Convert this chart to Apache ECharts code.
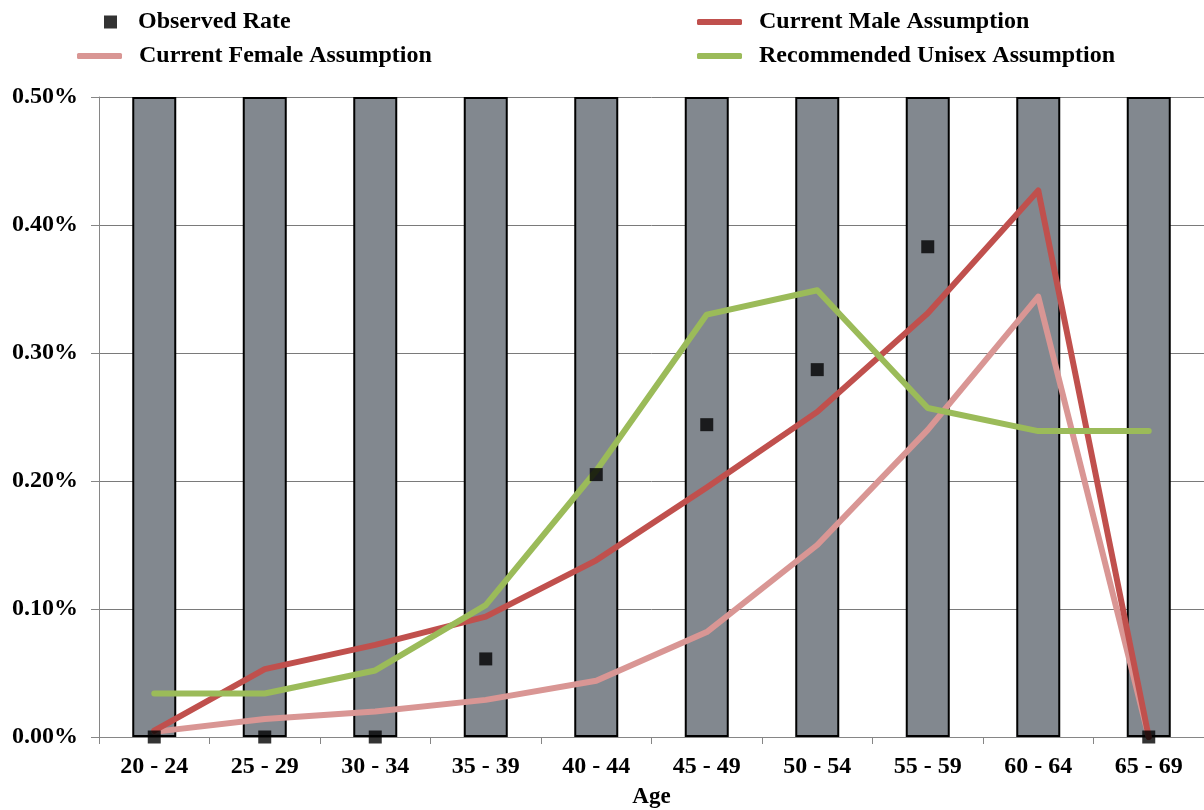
<!DOCTYPE html>
<html>
<head>
<meta charset="utf-8">
<script src="https://cdn.jsdelivr.net/npm/echarts@6/dist/echarts.min.js"></script>
<style>
  html, body { margin: 0; padding: 0; background: #fff; }
  #chart { width: 1204px; height: 810px; }
</style>
</head>
<body>
<div id="chart"></div>
<script>
// Age bands on the horizontal axis
const ageGroups = ['20 - 24', '25 - 29', '30 - 34', '35 - 39', '40 - 44',
                   '45 - 49', '50 - 54', '55 - 59', '60 - 64', '65 - 69'];

// Full-height shaded columns behind each age band (in %)
const bandColumns = [0.5, 0.5, 0.5, 0.5, 0.5, 0.5, 0.5, 0.5, 0.5, 0.5];

// Rates in percent
const observedRate      = [0, 0, 0, 0.061, 0.205, 0.244, 0.287, 0.383, null, 0];
const maleAssumption    = [0.005, 0.053, 0.072, 0.094, 0.138, 0.195, 0.254, 0.331, 0.427, 0];
const femaleAssumption  = [0.004, 0.014, 0.020, 0.029, 0.044, 0.082, 0.150, 0.240, 0.344, 0];
const unisexAssumption  = [0.034, 0.034, 0.052, 0.103, 0.208, 0.330, 0.349, 0.257, 0.239, 0.239];

// Y axis tick values
const yTicks = { min: 0, max: 0.5, step: 0.1 };

const FONT = "'Liberation Serif', 'Times New Roman', serif";
const textBase = { fontFamily: FONT, fontWeight: 'bold', fontSize: 24, color: '#000' };

const chart = echarts.init(document.getElementById('chart'), null, { renderer: 'canvas' });

const lineSeries = (name, data, color) => ({
  name, type: 'line', data,
  symbol: 'none',
  z: 3,
  lineStyle: { color, width: 6, cap: 'round', join: 'round' },
  itemStyle: { color },
  animation: false
});

const lineLegend = (name, left, top) => ({
  data: [{ name, icon: 'roundRect' }],
  left, top, itemWidth: 45, itemHeight: 6,
  textStyle: Object.assign({ padding: [0, 0, 0, 12] }, textBase)
});

chart.setOption({
  animation: false,
  backgroundColor: '#fff',
  grid: { left: 99, right: 0, top: 97, bottom: 73, containLabel: false, outerBoundsMode: 'none' },
  legend: [
    { data: [{ name: 'Observed Rate', icon: 'rect' }], left: 99, top: 5, itemWidth: 13, itemHeight: 13,
      textStyle: Object.assign({ padding: [0, 0, 0, 16] }, textBase) },
    lineLegend('Current Female Assumption', 72, 39),
    lineLegend('Current Male Assumption', 692, 5),
    lineLegend('Recommended Unisex Assumption', 692, 39)
  ],
  xAxis: {
    type: 'category',
    data: ageGroups,
    boundaryGap: true,
    name: 'Age',
    nameLocation: 'middle',
    nameGap: 49,
    nameTextStyle: Object.assign({}, textBase, { fontSize: 23 }),
    axisLine: { lineStyle: { color: '#868686', width: 1 } },
    axisTick: { show: true, length: 7, lineStyle: { color: '#868686' } },
    axisLabel: Object.assign({ margin: 18 }, textBase),
    splitLine: { show: false }
  },
  yAxis: {
    type: 'value',
    min: yTicks.min, max: yTicks.max, interval: yTicks.step,
    axisLine: { show: true, lineStyle: { color: '#868686', width: 1 } },
    axisTick: { show: true, length: 8, lineStyle: { color: '#868686' } },
    axisLabel: Object.assign({
      margin: 21,
      formatter: v => v.toFixed(2) + '%'
    }, textBase),
    splitLine: { show: true, lineStyle: { color: '#7a7a7a', width: 1 } }
  },
  series: [
    {
      name: 'Age Band', type: 'bar', data: bandColumns,
      barWidth: 44, z: 1,
      itemStyle: { color: '#82888F', borderColor: '#000', borderWidth: 2 },
      silent: true
    },
    lineSeries('Current Female Assumption', femaleAssumption, '#D99694'),
    lineSeries('Current Male Assumption', maleAssumption, '#C0504D'),
    lineSeries('Recommended Unisex Assumption', unisexAssumption, '#9BBB59'),
    {
      name: 'Observed Rate', type: 'scatter', data: observedRate,
      symbol: 'rect', symbolSize: 13, z: 5,
      itemStyle: { color: '#000' }
    }
  ]
});
</script>
</body>
</html>
